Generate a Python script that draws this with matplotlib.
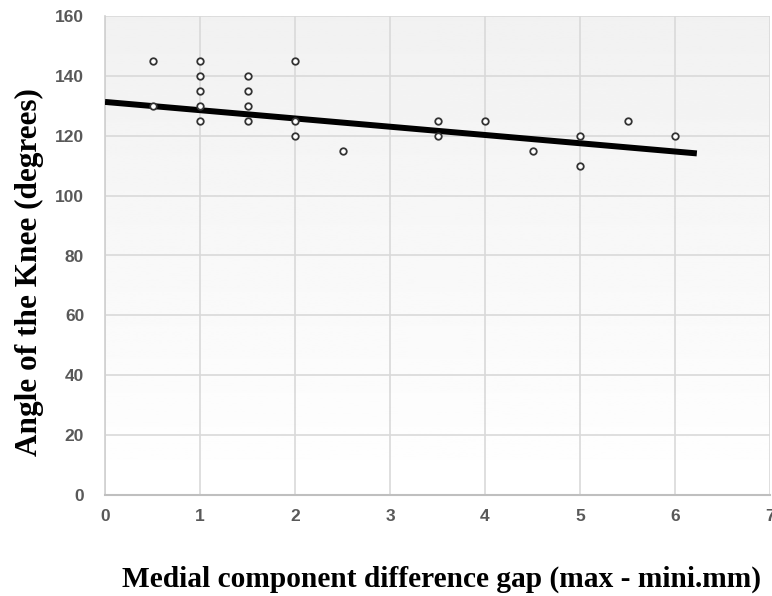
import numpy as np
import matplotlib.pyplot as plt

# data
gap_mm = [0.5, 0.5, 1, 1, 1, 1, 1, 1.5, 1.5, 1.5, 1.5, 2, 2, 2, 2.5,
          3.5, 3.5, 4, 4.5, 5, 5, 5.5, 6]
knee_angle = [145, 130, 145, 140, 135, 130, 125, 140, 135, 130, 125, 145, 125, 120, 115,
              125, 120, 125, 115, 120, 110, 125, 120]
# trend line end points as drawn
trend_x = [0, 6.23]
trend_y = [131.3, 114.1]

x_ticks = [0, 1, 2, 3, 4, 5, 6, 7]
y_ticks = [0, 20, 40, 60, 80, 100, 120, 140, 160]

fig = plt.figure(figsize=(7.72, 5.96), dpi=100)
ax = fig.add_axes([105 / 772, 1 - 495 / 596, 665 / 772, 479 / 596])

# gradient background, white at the top to light grey at the bottom
grad = np.linspace(1.0, 0.945, 256).reshape(-1, 1)
ax.imshow(grad, cmap='gray', vmin=0, vmax=1, aspect='auto',
          extent=[0, 7, 160, 0], zorder=0)

ax.set_xlim(0, 7)
ax.set_ylim(0, 160)
ax.set_xticks(x_ticks)
ax.set_yticks(y_ticks)
ax.grid(True, color='#d9d9d9', linewidth=1.2, zorder=1)
ax.set_axisbelow(True)

ax.plot(trend_x, trend_y, color='black', linewidth=4.3, solid_capstyle='butt', zorder=3)
ax.scatter(gap_mm, knee_angle, s=22, facecolor='white', edgecolor='#333333',
           linewidth=1.3, zorder=4)

for side in ['top', 'right']:
    ax.spines[side].set_visible(False)
ax.spines['left'].set_color('#d0d0d0')
ax.spines['bottom'].set_color('#bfbfbf')
ax.spines['left'].set_linewidth(1.2)
ax.spines['bottom'].set_linewidth(1.5)

ax.tick_params(length=0, pad=10, labelsize=12.5, labelcolor='#595959')
for lab in ax.get_xticklabels() + ax.get_yticklabels():
    lab.set_fontfamily('Liberation Sans')
    lab.set_fontweight('bold')
ax.tick_params(axis='y', pad=15)

fig.text(441 / 772, 1 - 579 / 596, 'Medial component difference gap (max - mini.mm)',
         ha='center', va='center', fontsize=21.2, fontweight='bold',
         family='Liberation Serif')
fig.text(29 / 772, 1 - 272 / 596, 'Angle of the Knee (degrees)',
         ha='center', va='center', rotation=90, fontsize=22.5, fontweight='bold',
         family='Liberation Serif')

plt.savefig('out.png', dpi=100)
